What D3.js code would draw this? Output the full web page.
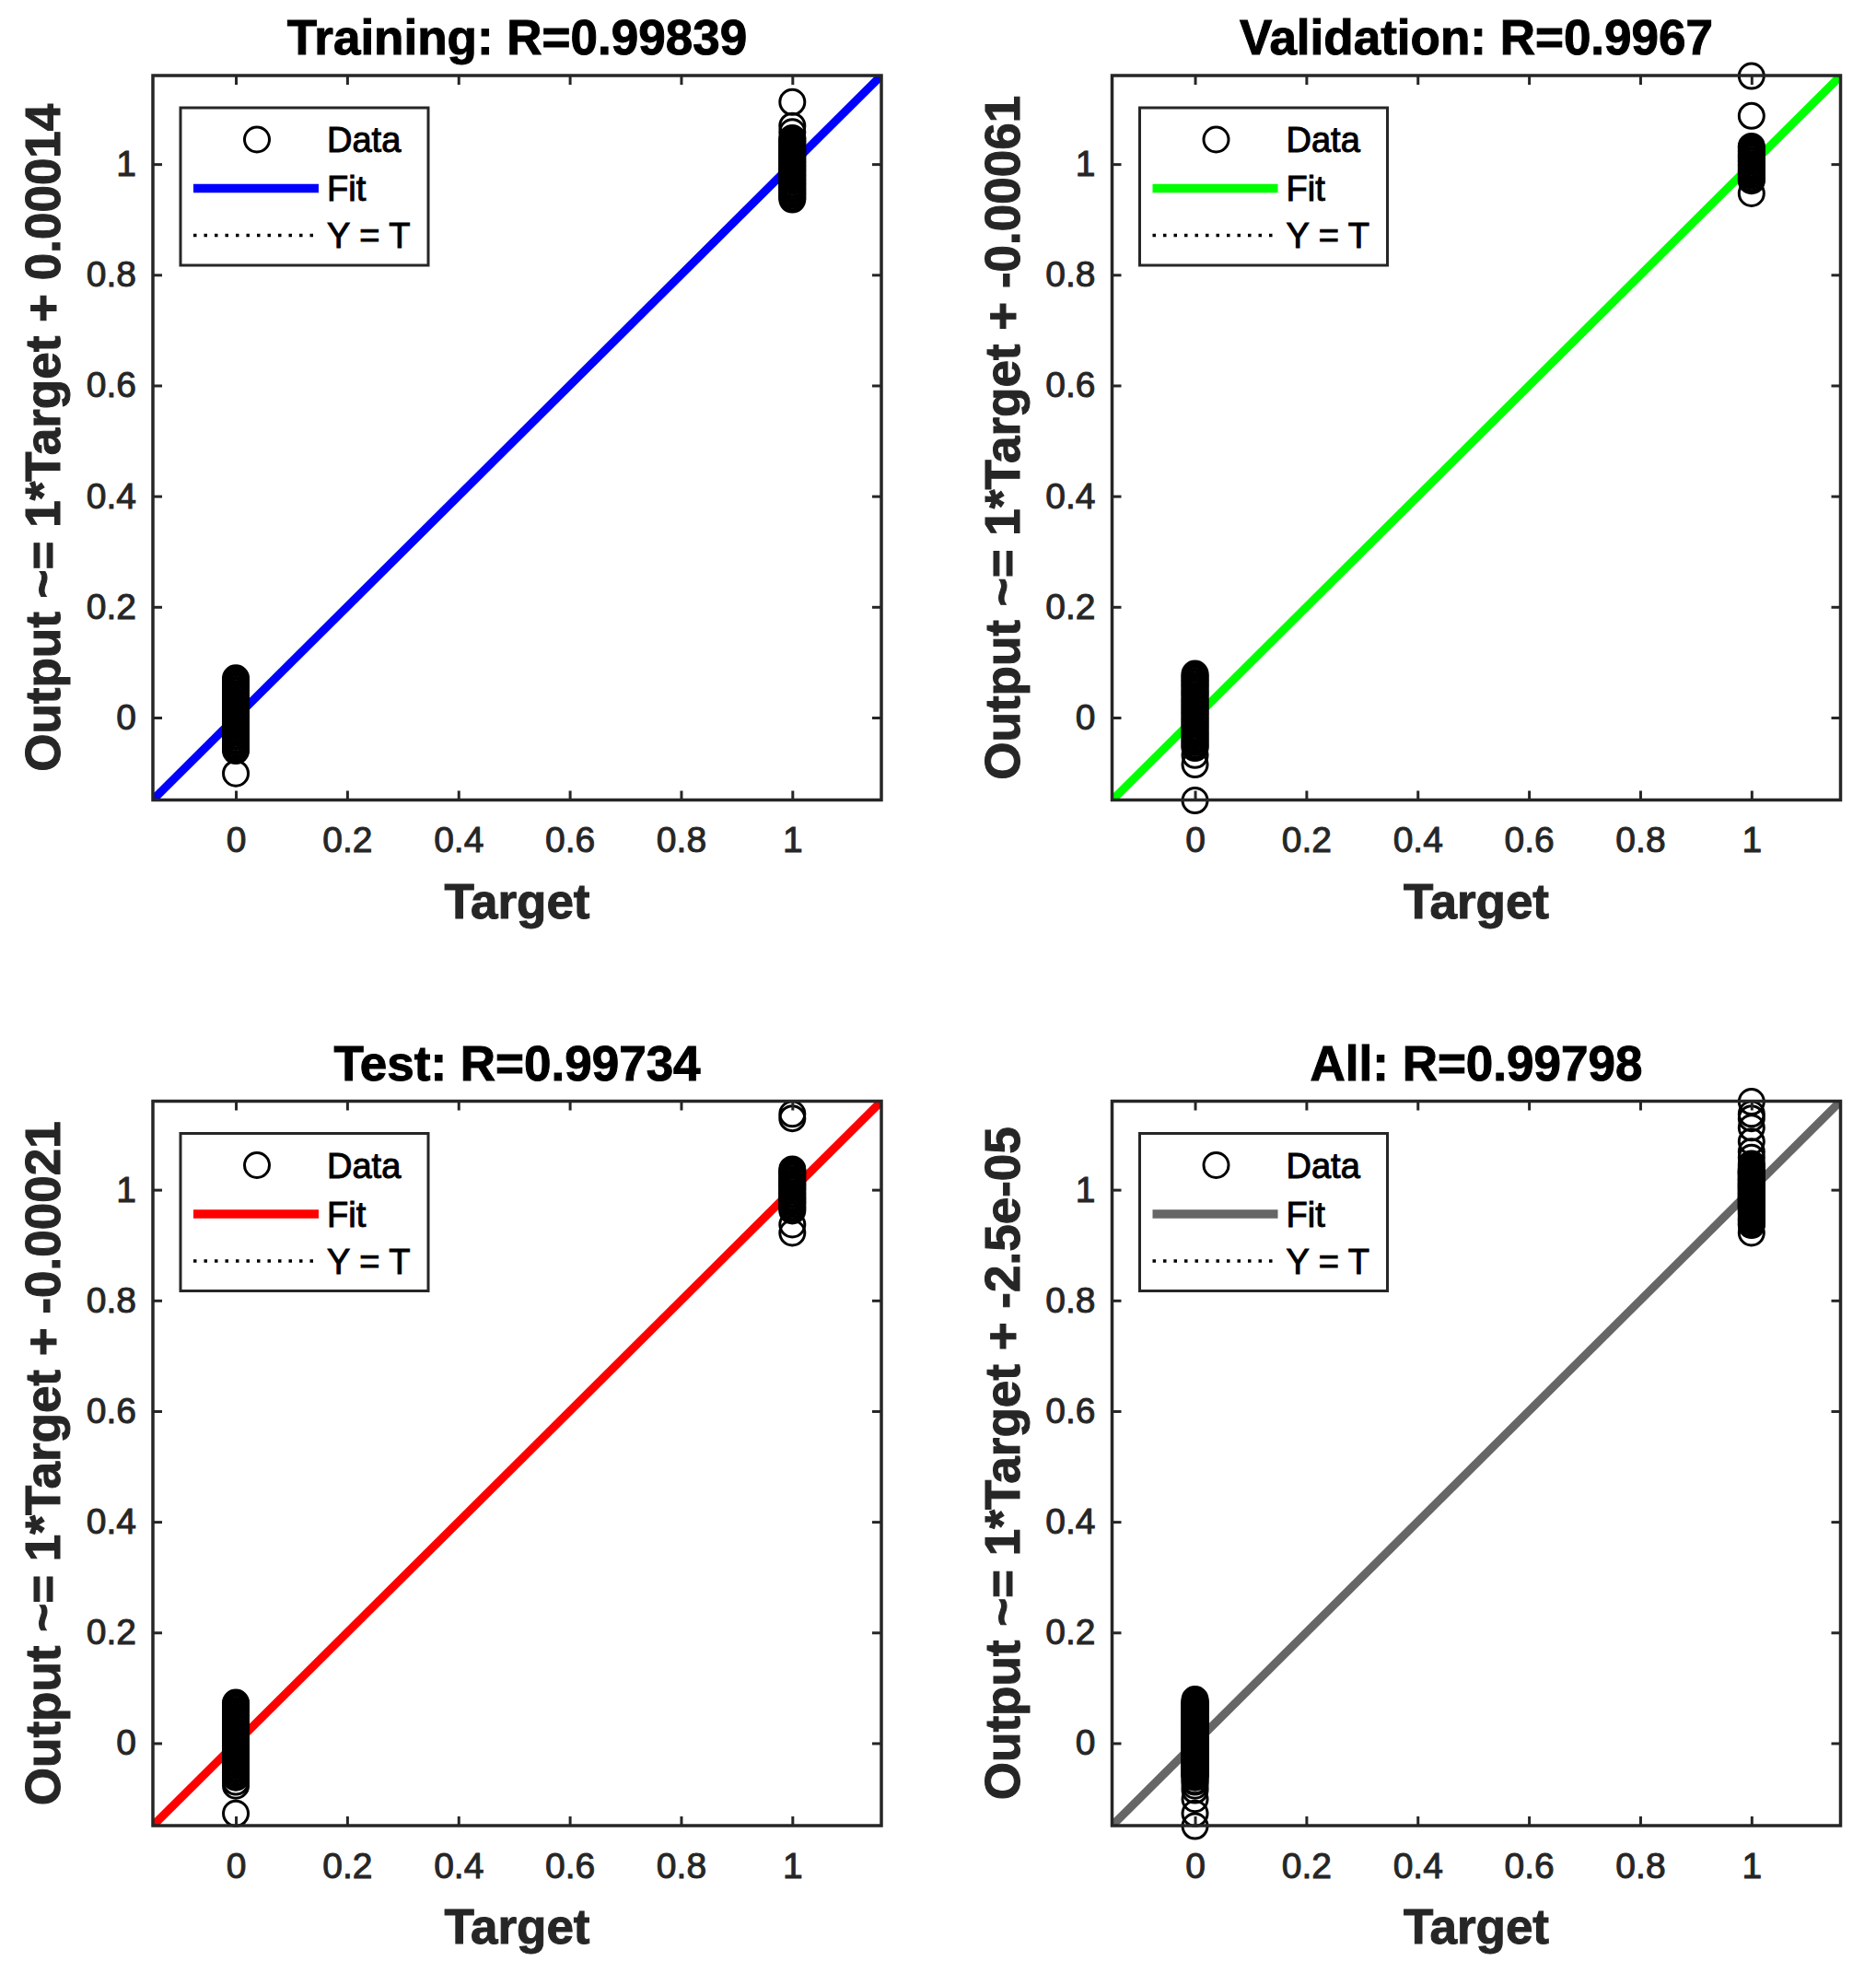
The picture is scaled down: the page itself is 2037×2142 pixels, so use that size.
<!DOCTYPE html>
<html><head><meta charset="utf-8">
<script src="https://cdn.jsdelivr.net/npm/d3@7/dist/d3.min.js"></script>
<style>html,body{margin:0;padding:0;background:#fff} svg{display:block}</style>
</head><body>
<div id="chart"></div>
<script>
// ---------- data ----------
const panelTitles = ["Training: R=0.99839", "Validation: R=0.9967", "Test: R=0.99734", "All: R=0.99798"];
const yAxisLabels = ["Output ~= 1*Target + 0.00014", "Output ~= 1*Target + -0.00061",
                     "Output ~= 1*Target + -0.00021", "Output ~= 1*Target + -2.5e-05"];
const xAxisLabel = "Target";
const fitSlopes = [1, 1, 1, 1];
const fitIntercepts = [0.00014, -0.00061, -0.00021, -2.5e-05];
const fitColors = ["#0000ff", "#00ff00", "#ff0000", "#666666"];
const legendLabels = ["Data", "Fit", "Y = T"];
const tickValues = [0, 0.2, 0.4, 0.6, 0.8, 1];
const tickLabels = ["0", "0.2", "0.4", "0.6", "0.8", "1"];
const axisLimits = [-0.149, 1.16];

// network outputs for samples whose target is 0 / 1
const trainOut0 = [-0.101, -0.060, -0.057, -0.053, -0.050, -0.046, -0.042, -0.039, -0.035, -0.032, -0.028,
  -0.025, -0.021, -0.017, -0.014, -0.010, -0.007, -0.003, 0.000, 0.004, 0.008, 0.011, 0.015, 0.018, 0.022,
  0.025, 0.029, 0.032, 0.036, 0.040, 0.043, 0.047, 0.050, 0.054, 0.057, 0.061, 0.064, 0.068, 0.071];
const trainOut1 = [1.112, 1.069, 1.058, 1.047, 1.044, 1.040, 1.037, 1.033, 1.030, 1.026, 1.022, 1.019, 1.015,
  1.012, 1.008, 1.005, 1.001, 0.997, 0.994, 0.990, 0.987, 0.983, 0.980, 0.976, 0.972, 0.969, 0.965, 0.962,
  0.958, 0.955, 0.951, 0.947, 0.944, 0.940, 0.936];
const valOut0 = [0.079, 0.076, 0.072, 0.069, 0.065, 0.062, 0.058, 0.055, 0.051, 0.047, 0.044, 0.040, 0.037,
  0.033, 0.030, 0.026, 0.022, 0.019, 0.015, 0.012, 0.008, 0.005, 0.001, -0.003, -0.006, -0.010, -0.013,
  -0.017, -0.020, -0.024, -0.028, -0.031, -0.035, -0.038, -0.042, -0.045, -0.049, -0.052, -0.055, -0.068,
  -0.085, -0.150];
const valOut1 = [1.159, 1.087, 1.032, 1.029, 1.025, 1.022, 1.018, 1.014, 1.011, 1.007, 1.004, 1.000, 0.997,
  0.993, 0.989, 0.986, 0.982, 0.979, 0.975, 0.972, 0.970, 0.947];
const testOut0 = [0.073, 0.070, 0.066, 0.063, 0.059, 0.055, 0.052, 0.048, 0.045, 0.041, 0.038, 0.034, 0.030,
  0.027, 0.023, 0.020, 0.016, 0.013, 0.009, 0.005, 0.002, -0.002, -0.005, -0.009, -0.012, -0.016, -0.020,
  -0.023, -0.027, -0.030, -0.034, -0.037, -0.041, -0.045, -0.048, -0.052, -0.055, -0.059, -0.062, -0.070,
  -0.077, -0.127];
const testOut1 = [1.137, 1.129, 1.037, 1.034, 1.030, 1.027, 1.023, 1.019, 1.016, 1.012, 1.009, 1.005, 1.002,
  0.998, 0.994, 0.991, 0.987, 0.984, 0.980, 0.977, 0.973, 0.969, 0.966, 0.962, 0.937, 0.922];

// ---------- build ----------
function pts(out0, out1) {
  return out0.map(o => ({t: 0, o})).concat(out1.map(o => ({t: 1, o})));
}
const panelData = [
  pts(trainOut0, trainOut1),
  pts(valOut0, valOut1),
  pts(testOut0, testOut1),
  pts(trainOut0.concat(valOut0, testOut0), trainOut1.concat(valOut1, testOut1))
];

const W = 2037, H = 2142;
const PW = 791, PH = 786.5;
const origins = [[166, 82], [1207.5, 82], [166, 1195.5], [1207.5, 1195.5]];
const FONT = "'Liberation Sans', Arial, Helvetica, sans-serif";
const AXC = "#262626";

const svg = d3.select("#chart").append("svg")
  .attr("width", W).attr("height", H)
  .attr("viewBox", `0 0 ${W} ${H}`)
  .style("font-family", FONT);
svg.append("rect").attr("width", W).attr("height", H).attr("fill", "#fff");

panelData.forEach((data, i) => {
  const [ox, oy] = origins[i];
  const x = d3.scaleLinear().domain(axisLimits).range([0, PW]);
  const y = d3.scaleLinear().domain(axisLimits).range([PH, 0]);
  const g = svg.append("g").attr("transform", `translate(${ox},${oy})`);

  const clipId = "clip" + i;
  g.append("clipPath").attr("id", clipId).append("rect")
    .attr("width", PW).attr("height", PH);

  const plot = g.append("g").attr("clip-path", `url(#${clipId})`);

  // Y = T dotted line
  plot.append("line")
    .attr("x1", x(axisLimits[0])).attr("y1", y(axisLimits[0]))
    .attr("x2", x(axisLimits[1])).attr("y2", y(axisLimits[1]))
    .attr("stroke", "#000").attr("stroke-width", 3.5).attr("stroke-dasharray", "3.5,8");

  // fit line
  const line = d3.line().x(d => x(d)).y(d => y(fitSlopes[i] * d + fitIntercepts[i]));
  plot.append("path").datum(axisLimits).attr("d", line)
    .attr("fill", "none").attr("stroke", fitColors[i]).attr("stroke-width", 9);

  // data circles
  g.append("g").selectAll("circle").data(data).join("circle")
    .attr("cx", d => x(d.t)).attr("cy", d => y(d.o)).attr("r", 13.5)
    .attr("fill", "none").attr("stroke", "#000").attr("stroke-width", 3);

  // axes
  const fmt = (d) => tickLabels[tickValues.indexOf(d)];
  const xb = g.append("g").attr("transform", `translate(0,${PH})`)
    .call(d3.axisBottom(x).tickValues(tickValues).tickFormat(fmt).tickSizeInner(-10).tickSizeOuter(0).tickPadding(29));
  const yl = g.append("g")
    .call(d3.axisLeft(y).tickValues(tickValues).tickFormat(fmt).tickSizeInner(-10).tickSizeOuter(0).tickPadding(18));
  const xt = g.append("g")
    .call(d3.axisTop(x).tickValues(tickValues).tickFormat("").tickSizeInner(-10).tickSizeOuter(0));
  const yr = g.append("g").attr("transform", `translate(${PW},0)`)
    .call(d3.axisRight(y).tickValues(tickValues).tickFormat("").tickSizeInner(-10).tickSizeOuter(0));
  [xb, yl, xt, yr].forEach(a => {
    a.select(".domain").remove();
    a.selectAll(".tick line").attr("stroke", AXC).attr("stroke-width", 3);
    a.selectAll(".tick text").attr("fill", AXC).attr("stroke", AXC).attr("stroke-width", 1)
      .style("font-size", "39px").style("font-family", FONT);
  });
  g.append("rect").attr("width", PW).attr("height", PH)
    .attr("fill", "none").attr("stroke", AXC).attr("stroke-width", 3.5);

  // title
  g.append("text").attr("x", PW / 2).attr("y", -23).attr("text-anchor", "middle")
    .style("font-size", "53px").style("font-weight", "bold").attr("fill", "#000")
    .attr("stroke", "#000").attr("stroke-width", 1)
    .text(panelTitles[i]);
  // x label
  g.append("text").attr("x", PW / 2).attr("y", PH + 128).attr("text-anchor", "middle")
    .style("font-size", "53px").style("font-weight", "bold").attr("fill", AXC)
    .attr("stroke", AXC).attr("stroke-width", 1)
    .text(xAxisLabel);
  // y label
  g.append("text").attr("transform", `translate(-101,${PH / 2}) rotate(-90)`).attr("text-anchor", "middle")
    .style("font-size", "53px").style("font-weight", "bold").attr("fill", AXC)
    .attr("stroke", AXC).attr("stroke-width", 1)
    .text(yAxisLabels[i]);

  // legend
  const lg = g.append("g").attr("transform", "translate(30,35)");
  lg.append("rect").attr("width", 269).attr("height", 171)
    .attr("fill", "#fff").attr("stroke", AXC).attr("stroke-width", 3);
  const rowY = [34.5, 87.5, 138.5];
  lg.append("circle").attr("cx", 83).attr("cy", rowY[0]).attr("r", 13.5)
    .attr("fill", "none").attr("stroke", "#000").attr("stroke-width", 3);
  lg.append("line").attr("x1", 14).attr("x2", 150).attr("y1", rowY[1]).attr("y2", rowY[1])
    .attr("stroke", fitColors[i]).attr("stroke-width", 9.5);
  lg.append("line").attr("x1", 14).attr("x2", 150).attr("y1", rowY[2]).attr("y2", rowY[2])
    .attr("stroke", "#000").attr("stroke-width", 3.5).attr("stroke-dasharray", "3.5,8");
  lg.selectAll("text.lab").data(legendLabels).join("text").attr("class", "lab")
    .attr("x", 159).attr("y", (d, k) => rowY[k]).attr("dy", "0.36em")
    .style("font-size", "38px").attr("fill", "#000").attr("stroke", "#000").attr("stroke-width", 1)
    .text(d => d);
});
</script>
</body></html>
